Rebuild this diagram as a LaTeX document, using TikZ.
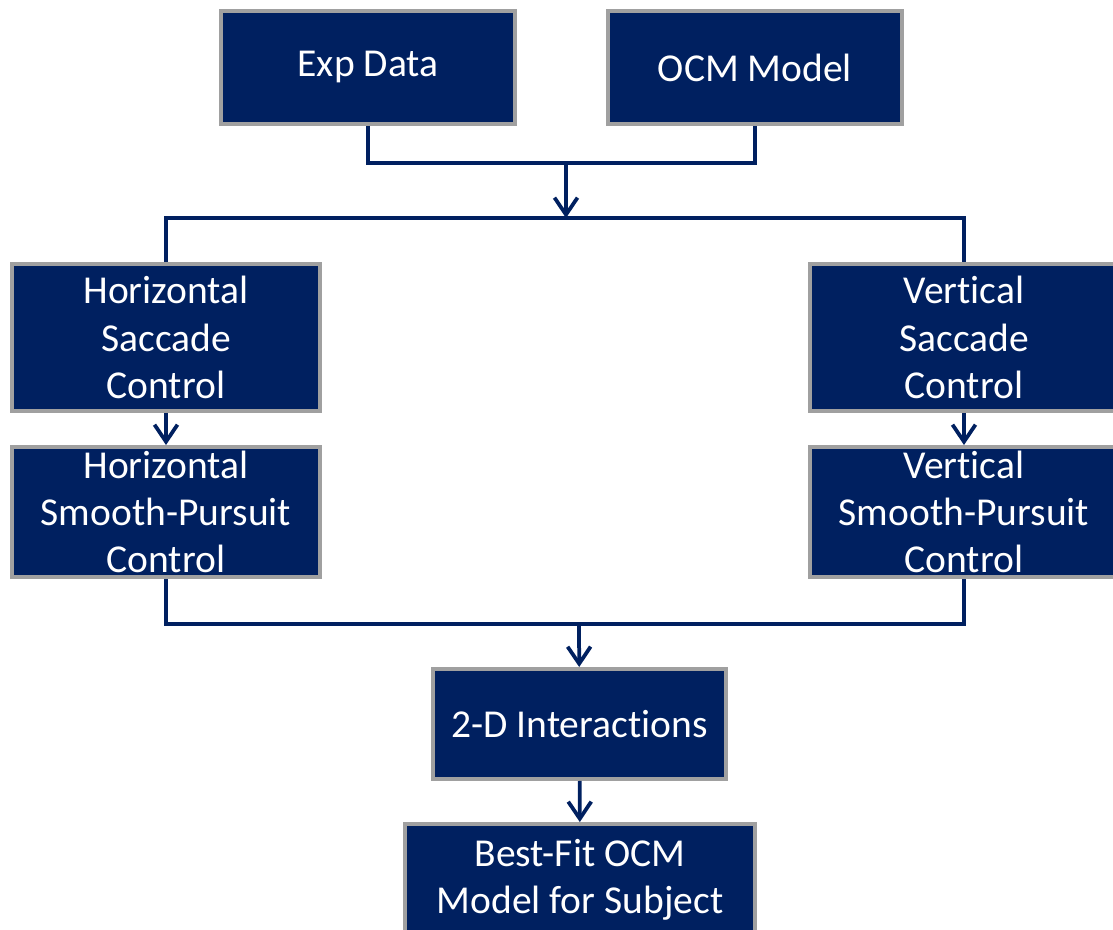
\documentclass[tikz,border=0pt]{standalone}
\usepackage{fontspec}
\setmainfont{Carlito}[Ligatures=NoCommon]
\usetikzlibrary{arrows.meta}
\definecolor{navy}{RGB}{0,32,96}
\definecolor{rim}{RGB}{160,160,160}

\begin{document}
\begin{tikzpicture}[x=0.02cm, y=-0.02cm,
  every node/.style={rectangle, draw=rim, line width=0.08cm, fill=navy, text=white, align=center, inner sep=0pt,
    font=\fontsize{22.5}{26.8}\selectfont},
  wire/.style={draw=navy, line width=0.075cm},
  arrow/.style={wire, -{Straight Barb[length=0.34cm, width=0.46cm, line width=0.075cm]}}]

\useasboundingbox (0,0) rectangle (1113,930);

% Define the boxes
\node[minimum width=5.88cm, minimum height=2.26cm] (exp) at (368,67.5) {Exp Data};
\node[minimum width=5.88cm, minimum height=2.26cm] (ocm) at (755,67.5) {OCM Model};
\node[minimum width=6.16cm, minimum height=2.94cm] (hsac) at (166,337.5) {Horizontal\\Saccade\\Control};
\node[minimum width=6.16cm, minimum height=2.6cm] (hsp) at (166,512) {Horizontal\\Smooth-Pursuit\\Control};
\node[minimum width=6.16cm, minimum height=2.94cm] (vsac) at (964,337.5) {Vertical\\Saccade\\Control};
\node[minimum width=6.16cm, minimum height=2.6cm] (vsp) at (964,512) {Vertical\\Smooth-Pursuit\\Control};
\node[minimum width=5.86cm, minimum height=2.2cm] (inter) at (579.5,724) {2-D Interactions};
\node[minimum width=7.0cm, minimum height=2.24cm] (best) at (580,880) {Best-Fit OCM\\Model for Subject};

% Define the join points
\coordinate (top) at (566,163);
\coordinate (split) at (566,218);
\coordinate (merge) at (579,624);

% Draw the connectors
\draw[wire] (exp.south) |- (top) -| (ocm.south);
\draw[arrow] (top) -- (split);
\draw[wire] (hsac.north) |- (split) -| (vsac.north);

\draw[arrow] (hsac) -- (hsp);
\draw[arrow] (vsac) -- (vsp);

\draw[wire] (hsp.south) |- (merge) -| (vsp.south);
\draw[arrow] (merge) -- (inter);
\draw[arrow] (inter) -- (best);

\end{tikzpicture}
\end{document}
